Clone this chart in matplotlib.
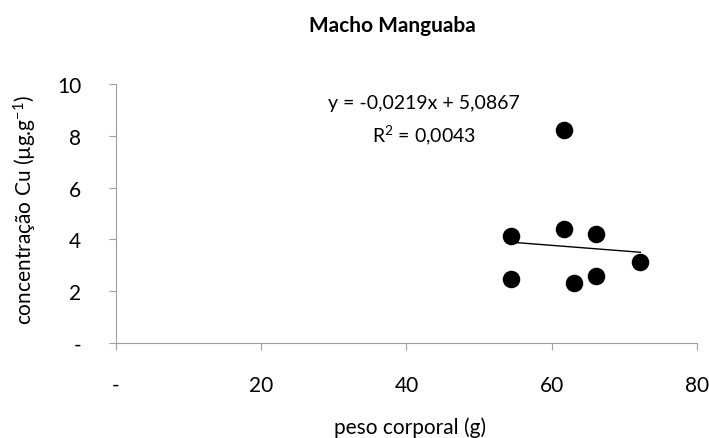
import numpy as np
import matplotlib
matplotlib.use("Agg")
import matplotlib.pyplot as plt

plt.rcParams['font.family'] = ['Lato', 'DejaVu Sans']
plt.rcParams['mathtext.fontset'] = 'custom'
plt.rcParams['mathtext.rm'] = 'Lato'
plt.rcParams['mathtext.it'] = 'Lato:italic'

# peso corporal (g) e concentracao Cu
peso = [61.7, 54.4, 61.7, 66.1, 72.2, 54.4, 63.1, 66.1]
cu = [8.23, 4.12, 4.41, 4.22, 3.14, 2.47, 2.33, 2.60]

# linha de tendencia mostrada na figura
slope = -0.0219
intercept = 5.0867
r2 = 0.0043

xticks = [0, 20, 40, 60, 80]
xlabels = ['-', '20', '40', '60', '80']
yticks = [0, 2, 4, 6, 8, 10]
ylabels = ['-', '2', '4', '6', '8', '10']

fig = plt.figure(figsize=(7.09, 4.39), dpi=100)
ax = fig.add_axes([0.1636, 0.2164, 0.8194, 0.5896])

ax.scatter(peso, cu, s=135, color='black', zorder=3)

xl = np.array([min(peso), max(peso)])
ax.plot(xl, slope * xl + intercept, color='black', lw=1)

ax.set_xlim(0, 80)
ax.set_ylim(0, 10)
ax.set_xticks(xticks)
ax.set_xticklabels(xlabels)
ax.set_yticks(yticks)
ax.set_yticklabels(ylabels)

for s in ['top', 'right']:
    ax.spines[s].set_visible(False)
for s in ['left', 'bottom']:
    ax.spines[s].set_color('#a0a0a0')
ax.tick_params(axis='both', colors='#a0a0a0', length=5, labelcolor='black', labelsize=15)
ax.tick_params(axis='x', pad=18)
ax.tick_params(axis='y', pad=20)

# rotulos dos eixos e titulo
fig.text(410 / 709, 1 - 428 / 439, 'peso corporal (g)', ha='center', va='center', fontsize=15)
fig.text(25 / 709, 1 - 210 / 439, 'concentração Cu (µg.g$^{-1}$)', ha='center', va='center',
         rotation=90, fontsize=15)
fig.text(392 / 709, 1 - 26 / 439, 'Macho Manguaba', ha='center', va='center',
         fontsize=15, fontweight='bold')

eq = 'y = -0,0219x + 5,0867\nR$^{2}$ = 0,0043'
ax.text(42.4, 8.61, eq, ha='center', va='center', fontsize=14,
        multialignment='center', linespacing=1.6)

fig.savefig('out.png', dpi=100)
